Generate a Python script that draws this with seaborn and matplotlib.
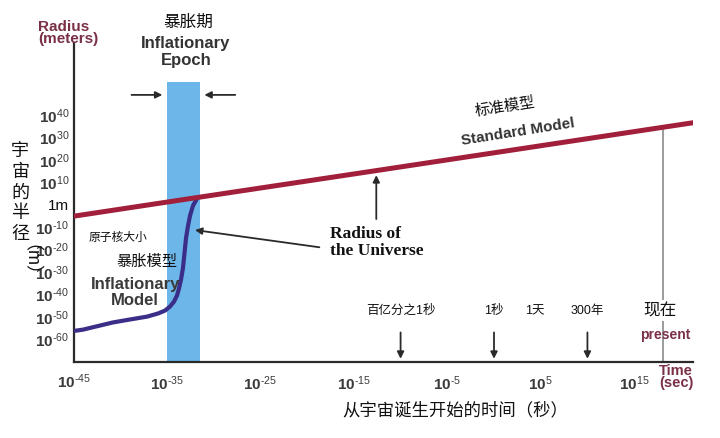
import numpy as np
import pandas as pd
import matplotlib.pyplot as plt
import seaborn as sns

# values: log10(time / s) and log10(radius / m)
std_t = [-45, -31.8, -12.6, 18.1, 21.3]
std_r = [-5.1, 3.2, 15.2, 34.5, 36.5]

infl_t = [-45, -44, -40.8, -39.0, -37.14, -35.96, -35.21, -34.68, -34.25, -33.93, -33.72, -33.5,
          -33.29, -33.18, -33.07, -32.96, -32.75, -32.54, -32.22, -31.79]
infl_r = [-56.2, -55.6, -52.4, -51.1, -49.8, -48.4, -47.1, -45.3, -43.1, -40.4, -37.3, -33.3,
          -28.0, -23.6, -19.1, -14.7, -9.3, -4.9, -0.4, 2.7]

epoch_t = [-35, -31.5]
epoch_top = 54.7

present_t = 18.1
marker_t = [-10, 0, 10]
marker_labels = ["百亿分之1秒", "1秒", "300年"]

x_ticks = [-35, -25, -15, -5, 5, 15]
x_exps = ["-35", "-25", "-15", "-5", "5", "15"]
y_ticks = [-60, -50, -40, -30, -20, -10, 0, 10, 20, 30, 40]
y_exps = ["-60", "-50", "-40", "-30", "-20", "-10", None, "10", "20", "30", "40"]


def pow_label(e):
    if e is None:
        return "1m"
    return "10$^{\\text{" + e + "}}$"


sns.set_style("white")
plt.rcParams['font.family'] = ['Liberation Sans', 'Noto Sans CJK SC', 'DejaVu Sans']
plt.rcParams['mathtext.fontset'] = 'custom'
plt.rcParams['mathtext.rm'] = 'Liberation Sans'
plt.rcParams['mathtext.default'] = 'regular'
plt.rcParams['axes.unicode_minus'] = False

RED = "#a11f3b"
PURPLE = "#3a2e88"
MAROON = "#7a3046"
DARK = "#2a2a2a"
TICK = "#3a3a3a"

fig = plt.figure(figsize=(7.2, 4.38), dpi=100)
ax = fig.add_axes([73.6 / 720, 76 / 438, (693 - 73.6) / 720, (362 - 43) / 438])

# inflationary epoch band
ax.fill_between(epoch_t, -70, epoch_top, color="#6db6ea", lw=0, zorder=1)

std = pd.DataFrame({"t": std_t, "r": std_r})
infl = pd.DataFrame({"t": infl_t, "r": infl_r})
sns.lineplot(data=infl, x="t", y="r", color=PURPLE, lw=3.0, estimator=None, ax=ax, zorder=3)
sns.lineplot(data=std, x="t", y="r", color=RED, lw=3.6, estimator=None, ax=ax, zorder=4)

# present line
ax.plot([present_t, present_t], [-70, np.interp(present_t, std_t, std_r)], color="#8a8a8a", lw=1.2, zorder=2)

ax.set_xlim(-45, 21.3)
ax.set_ylim(-70, 72)
ax.set_xticks(x_ticks)
ax.set_xticklabels([pow_label(e) for e in x_exps])
ax.set_yticks(y_ticks)
ax.set_yticklabels([pow_label(e) for e in y_exps])
ax.tick_params(direction="in", length=7, width=1.2, color=DARK, labelsize=11, labelcolor=TICK)
ax.tick_params(axis="x", pad=9)
ax.tick_params(axis="y", pad=3)
for lab in ax.get_xticklabels() + ax.get_yticklabels():
    if lab.get_text() != "1m":
        lab.set_fontweight("bold")
    else:
        lab.set_color("#111")
ax.set_xlabel("")
ax.set_ylabel("")
sns.despine(ax=ax)
for s in ["left", "bottom"]:
    ax.spines[s].set_color(DARK)
    ax.spines[s].set_linewidth(1.6)

# left-most x label sits on the spine
ax.text(-45, -74.5, pow_label("-45"), ha="center", va="top", fontsize=11, color=TICK, fontweight="bold")

arrow = dict(arrowstyle="-|>", color=DARK, lw=1.3, mutation_scale=10)
# epoch arrows
ax.annotate("", xy=(-35.2, 48.9), xytext=(-39.1, 48.9), arrowprops=arrow, annotation_clip=False)
ax.annotate("", xy=(-31.3, 48.9), xytext=(-27.4, 48.9), arrowprops=arrow, annotation_clip=False)
# radius of the universe pointers
ax.annotate("", xy=(-12.6, 14.4), xytext=(-12.6, -7.6), arrowprops=arrow)
ax.annotate("", xy=(-32.3, -11.1), xytext=(-18.4, -19.1), arrowprops=arrow)
# time markers
for t, lab in zip(marker_t, marker_labels):
    ax.annotate("", xy=(t, -69.8), xytext=(t, -55.6), arrowprops=arrow, annotation_clip=False)
    ax.text(t, -47.3, lab, ha="center", va="center", fontsize=9, color="#111",
            bbox=dict(fc="white", ec="none", pad=1.5))
ax.text(4.4, -47.3, "1天", ha="center", va="center", fontsize=9, color="#111")
ax.text(17.8, -47.1, "现在", ha="center", va="center", fontsize=12, color="#111",
        bbox=dict(fc="white", ec="none", pad=2))
ax.text(18.3, -57.8, "present", ha="center", va="center", fontsize=10, color=MAROON, fontweight="bold")

ax.text(1.2, 43.3, "标准模型", ha="center", va="center", fontsize=11, color="#111", rotation=9)
ax.text(2.6, 32.2, "Standard Model", ha="center", va="center", fontsize=11, color="#333",
        fontweight="bold", rotation=9)
ax.text(-17.6, -16.9, "Radius of\nthe Universe", ha="left", va="center", fontsize=12.5,
        family="Liberation Serif", fontweight="bold", color="#111", linespacing=1.05)
ax.text(-40.3, -14.6, "原子核大小", ha="center", va="center", fontsize=8.5, color="#111",
        bbox=dict(fc="white", ec="none", pad=1.5))
ax.text(-37.2, -25.3, "暴胀模型", ha="center", va="center", fontsize=11, color="#111")
ax.text(-38.4, -39.0, "Inflationary\nModel", ha="center", va="center", fontsize=12,
        color="#3a3a3a", fontweight="bold", linespacing=1.1)

# text outside the axes, placed in figure pixels
def fx(x):
    return x / 720

def fy(y):
    return 1 - y / 438

fig.text(fx(38), fy(33), "Radius\n(meters)", ha="left", va="center", fontsize=11,
         color=MAROON, fontweight="bold", linespacing=0.85)
fig.text(fx(188), fy(22), "暴胀期", ha="center", va="center", fontsize=12, color="#111")
fig.text(fx(186), fy(52), "Inflationary\nEpoch", ha="center", va="center", fontsize=12,
         color="#333", fontweight="bold", linespacing=1.15)
fig.text(fx(676), fy(377), "Time\n(sec)", ha="center", va="center", fontsize=10.5,
         color=MAROON, fontweight="bold", linespacing=0.85)
fig.text(fx(455), fy(410), "从宇宙诞生开始的时间（秒）", ha="center", va="center", fontsize=12.5, color="#111")
fig.text(fx(20), fy(193), "宇\n宙\n的\n半\n径", ha="center", va="center", fontsize=13,
         color="#111", linespacing=1.3)
fig.text(fx(20), fy(269), "（m）", ha="center", va="center", fontsize=13, color="#111", rotation=-90)

fig.savefig("out.png", dpi=100)
